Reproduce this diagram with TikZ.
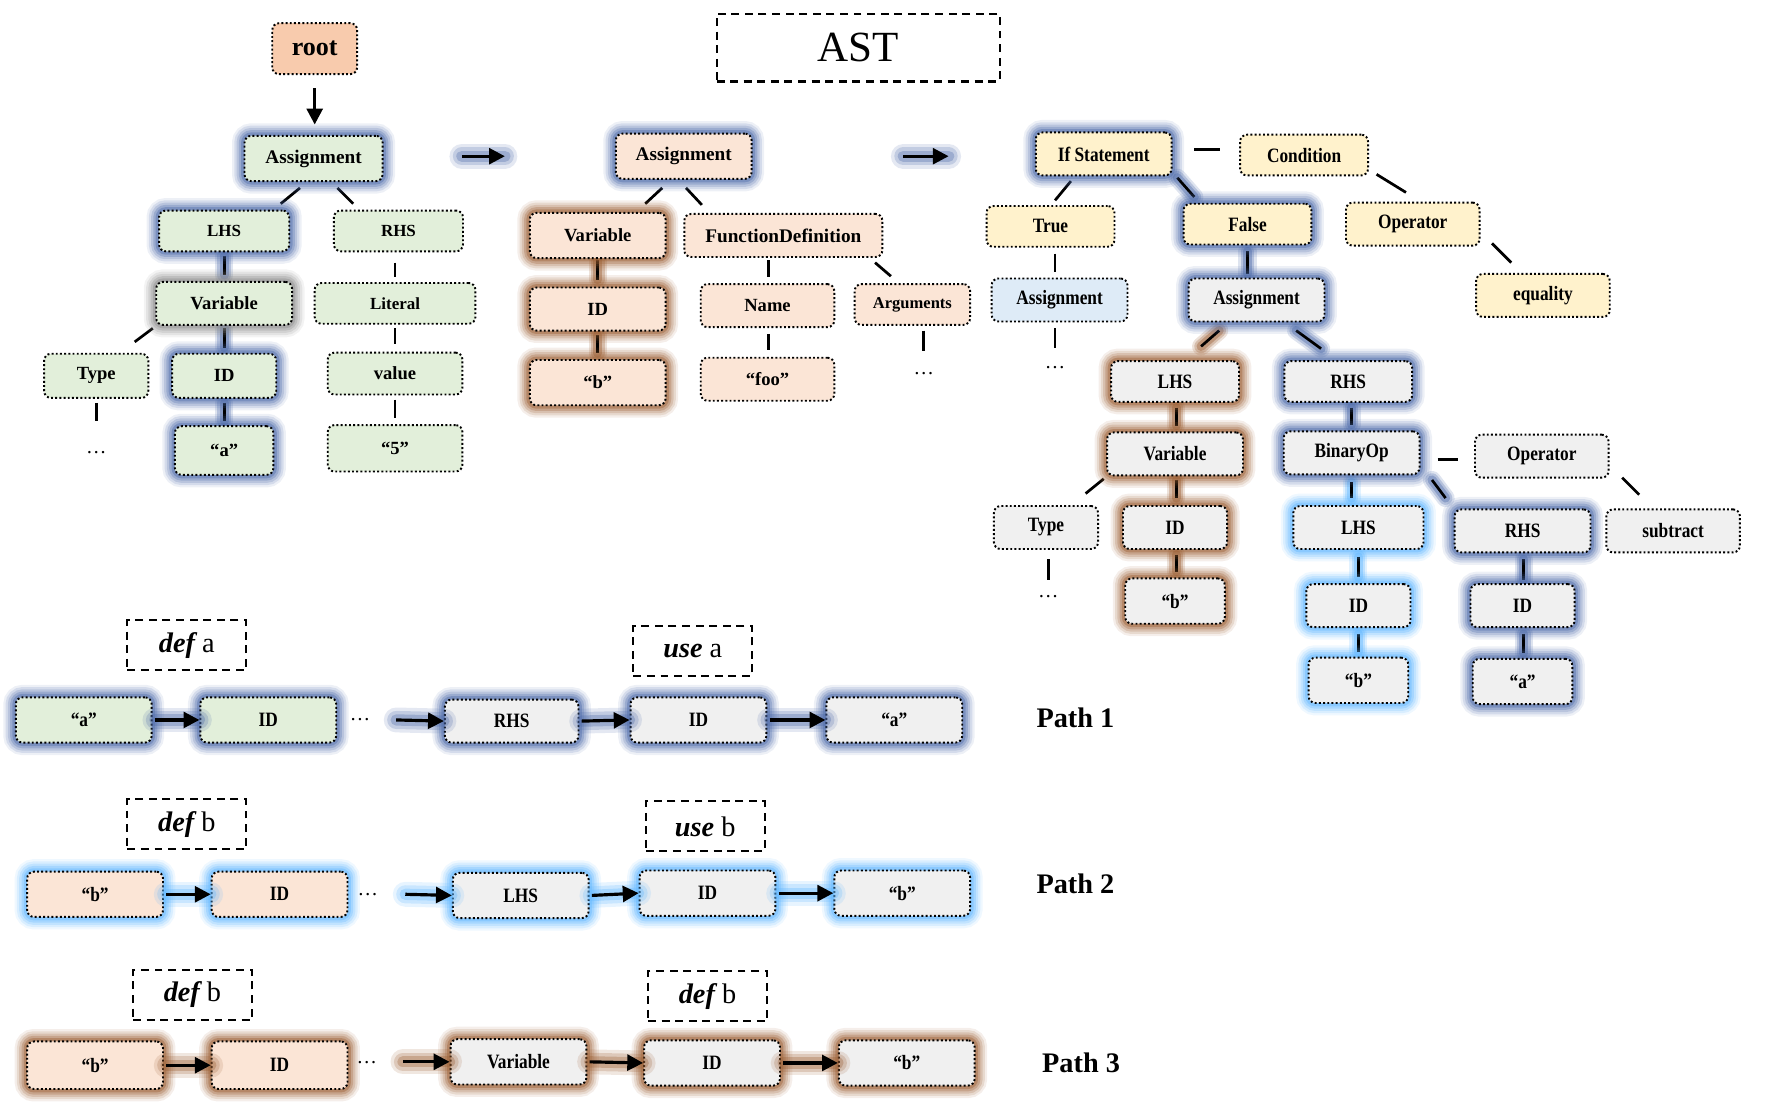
\documentclass[tikz,border=0pt]{standalone}
\usepackage{fontspec}
\setmainfont{Liberation Serif}
\newfontfamily\condf[FakeStretch=0.85]{Liberation Serif}
\usetikzlibrary{arrows.meta,calc}
\definecolor{cgreen}{HTML}{E2EFDA}
\definecolor{cpeach}{HTML}{FBE5D6}
\definecolor{croot}{HTML}{F8CBAD}
\definecolor{cyellow}{HTML}{FFF2CC}
\definecolor{cgray}{HTML}{F0F0F0}
\definecolor{cblue}{HTML}{DEEBF7}
\definecolor{glowblue}{HTML}{4A68A8}
\definecolor{glowbrown}{HTML}{9A5C30}
\definecolor{glowlight}{HTML}{5FB6FF}
\definecolor{glowgray}{HTML}{8A8A8A}
\pgfdeclarelayer{bg}\pgfsetlayers{bg,main}
\newcommand\cnx[5][conn]{\draw[#1] ($(#2)+(#3)$) -- ($(#4)+(#5)$);}
\newcommand\garr[5]{\path[gline=#1] ($(#2)+(#3)$) -- ($(#4)+(#5)$);
  \draw[arr] ($(#2)+(#3)$) -- ($(#4)+(#5)$);}
\begin{document}
\begin{tikzpicture}[x=0.5pt,y=-0.5pt,
  nd/.style={draw, densely dotted, line width=0.85pt, rounded corners=3pt, inner sep=1pt, align=center},
  sz/.style 2 args={minimum width=#1*0.5pt, minimum height=#2*0.5pt},
  lf/.style={font=\bfseries\fontsize{#1}{12}\selectfont},
  rf/.style={font=\condf\bfseries\fontsize{9}{11}\selectfont},
  glow/.style={preaction={draw=#1,solid,line width=11pt,draw opacity=.1},
               preaction={draw=#1,solid,line width=9pt,draw opacity=.15},
               preaction={draw=#1,solid,line width=7pt,draw opacity=.2},
               preaction={draw=#1,solid,line width=5pt,draw opacity=.28},
               preaction={draw=#1,solid,line width=3pt,draw opacity=.4}},
  gb/.style={glow=glowblue}, gr/.style={glow=glowbrown}, gl/.style={glow=glowlight},
  conn/.style={line width=1.2pt},
  cg/.style={conn, preaction={draw=#1,line width=8pt,draw opacity=.18,line cap=round},
             preaction={draw=#1,line width=6pt,draw opacity=.28,line cap=round},
             preaction={draw=#1,line width=4pt,draw opacity=.4,line cap=round}},
  gline/.style={preaction={draw=#1,line width=11pt,draw opacity=.15,line cap=round},
                preaction={draw=#1,line width=8pt,draw opacity=.22,line cap=round},
                preaction={draw=#1,line width=5pt,draw opacity=.32,line cap=round}},
  arr/.style={line width=1.4pt, -{Triangle[length=7pt,width=7pt]}},
  dbox/.style={draw, dash pattern=on 3.5pt off 2.5pt, line width=0.9pt, font=\fontsize{12.5}{14}\selectfont},
  dots/.style={font=\fontsize{9}{10}\selectfont, inner sep=0pt},
  plabel/.style={font=\bfseries\fontsize{12.5}{14}\selectfont}
]
\useasboundingbox (0,0) rectangle (1568,978);

% ---------- titles ----------
\node[nd,fill=croot,sz={75}{45},lf=11.5] (root) at (278,43) {root};
\node[dbox,sz={250}{60},font=\fontsize{19}{22}\selectfont] (ast) at (758,42) {AST};

% ---------- left tree ----------
\node[nd,fill=cgreen,gb,sz={122}{40},lf=8.5] (asgA) at (277,140) {Assignment};
\node[nd,fill=cgreen,gb,sz={115}{36},lf=7.5] (lhsA) at (198,204) {LHS};
\node[nd,fill=cgreen,sz={114}{36},lf=7.5] (rhsA) at (352,204) {RHS};
\node[nd,fill=cgreen,glow=glowgray,sz={120}{38},lf=8.2] (varA) at (198,268) {Variable};
\node[nd,fill=cgreen,sz={142}{36},lf=7.5] (litA) at (349,268) {Literal};
\node[nd,fill=cgreen,sz={92}{39},lf=8.2] (typeA) at (85,332) {Type};
\node[nd,fill=cgreen,gb,sz={92}{39},lf=8.2] (idA) at (198,332) {ID};
\node[nd,fill=cgreen,sz={119}{37},lf=8.2] (valA) at (349,330) {value};
\node[nd,fill=cgreen,gb,sz={87}{43},lf=8.2] (aA) at (198,398) {“a”};
\node[nd,fill=cgreen,sz={119}{41},lf=8.2] (fiveA) at (349,396) {“5”};
\node[dots] (dotsA) at (85,400) {…};

% ---------- middle tree ----------
\node[nd,fill=cpeach,gb,sz={120}{40},lf=8.5] (asgB) at (604,138) {Assignment};
\node[nd,fill=cpeach,gr,sz={120}{40},lf=8.2] (varB) at (528,208) {Variable};
\node[nd,fill=cpeach,sz={175}{38},lf=8.5] (fdB) at (692,208) {FunctionDefinition};
\node[nd,fill=cpeach,gr,sz={120}{38},lf=8.2] (idB) at (528,273) {ID};
\node[nd,fill=cpeach,sz={118}{38},lf=8.2] (nameB) at (678,270) {Name};
\node[nd,fill=cpeach,sz={102}{36},lf=7.3] (argB) at (806,269) {Arguments};
\node[nd,fill=cpeach,gr,sz={120}{40},lf=8.2] (bB) at (528,338) {“b”};
\node[nd,fill=cpeach,sz={118}{38},lf=8.2] (fooB) at (678,335) {“foo”};
\node[dots] (dotsB) at (816,330) {…};

% ---------- right tree ----------
\node[nd,fill=cyellow,gb,sz={120}{38},rf] (ifC) at (975,136) {If Statement};
\node[nd,fill=cyellow,sz={113}{36},rf] (condC) at (1152,137) {Condition};
\node[nd,fill=cyellow,sz={113}{36},rf] (trueC) at (928,200) {True};
\node[nd,fill=cyellow,gb,sz={113}{36},rf] (falseC) at (1102,198) {False};
\node[nd,fill=cyellow,sz={118}{38},rf] (opC) at (1248,198) {Operator};
\node[nd,fill=cyellow,sz={118}{38},rf] (eqC) at (1363,261) {equality};
\node[nd,fill=cblue,sz={120}{38},rf] (asgC) at (936,265) {Assignment};
\node[nd,fill=cgray,gb,sz={120}{38},rf] (asgD) at (1110,265) {Assignment};
\node[dots] (dotsC) at (932,325) {…};
\node[nd,fill=cgray,gr,sz={113}{36},rf] (lhsD) at (1038,337) {LHS};
\node[nd,fill=cgray,gb,sz={113}{36},rf] (rhsD) at (1191,337) {RHS};
\node[nd,fill=cgray,gr,sz={120}{38},rf] (varD) at (1038,401) {Variable};
\node[nd,fill=cgray,gb,sz={120}{38},rf] (binD) at (1194,400) {BinaryOp};
\node[nd,fill=cgray,sz={118}{38},rf] (op2D) at (1362,403) {Operator};
\node[nd,fill=cgray,sz={118}{38},rf] (subD) at (1478,469) {subtract};
\node[nd,fill=cgray,sz={92}{38},rf] (typeD) at (924,466) {Type};
\node[nd,fill=cgray,gr,sz={92}{38},rf] (idD) at (1038,466) {ID};
\node[dots] (dotsD) at (926,527) {…};
\node[nd,fill=cgray,gr,sz={88}{40},rf] (bD) at (1038,531) {“b”};
\node[nd,fill=cgray,gl,sz={115}{38},rf] (lhsE) at (1200,466) {LHS};
\node[nd,fill=cgray,gb,sz={120}{38},rf] (rhsE) at (1345,469) {RHS};
\node[nd,fill=cgray,gl,sz={92}{38},rf] (idE) at (1200,535) {ID};
\node[nd,fill=cgray,gl,sz={88}{40},rf] (bE) at (1200,601) {“b”};
\node[nd,fill=cgray,gb,sz={92}{38},rf] (idF) at (1345,535) {ID};
\node[nd,fill=cgray,gb,sz={88}{40},rf] (aF) at (1345,602) {“a”};

% ---------- path rows ----------
\node[dbox,sz={105}{44}] (defA) at (165,570) {{\bfseries\itshape def} a};
\node[dbox,sz={105}{44}] (useA) at (612,575) {{\bfseries\itshape use} a};
\node[nd,fill=cgreen,gb,sz={120}{40},rf] (aP1) at (74,636) {“a”};
\node[nd,fill=cgreen,gb,sz={120}{40},rf] (idP1) at (237,636) {ID};
\node[dots] (dP1) at (318,636) {…};
\coordinate (sP1) at (350,636);
\node[nd,fill=cgray,gb,sz={118}{38},rf] (rhsP1) at (452,637) {RHS};
\node[nd,fill=cgray,gb,sz={120}{40},rf] (idP1b) at (617,636) {ID};
\node[nd,fill=cgray,gb,sz={120}{40},rf] (aP1b) at (790,636) {“a”};
\node[plabel] (path1) at (950,634) {Path 1};

\node[dbox,sz={105}{44}] (defB) at (165,728) {{\bfseries\itshape def} b};
\node[dbox,sz={105}{44}] (useB) at (623,730) {{\bfseries\itshape use} b};
\node[nd,fill=cpeach,gl,sz={120}{40},rf] (bP2) at (84,790) {“b”};
\node[nd,fill=cpeach,gl,sz={120}{40},rf] (idP2) at (247,790) {ID};
\node[dots] (dP2) at (325,790) {…};
\coordinate (sP2) at (358,790);
\node[nd,fill=cgray,gl,sz={120}{40},rf] (lhsP2) at (460,791) {LHS};
\node[nd,fill=cgray,gl,sz={120}{40},rf] (idP2b) at (625,789) {ID};
\node[nd,fill=cgray,gl,sz={120}{40},rf] (bP2b) at (797,789) {“b”};
\node[plabel] (path2) at (950,781) {Path 2};

\node[dbox,sz={105}{44}] (defB2) at (170,879) {{\bfseries\itshape def} b};
\node[dbox,sz={105}{44}] (defB3) at (625,880) {{\bfseries\itshape def} b};
\node[nd,fill=cpeach,gr,sz={120}{42},rf] (bP3) at (84,941) {“b”};
\node[nd,fill=cpeach,gr,sz={120}{42},rf] (idP3) at (247,941) {ID};
\node[dots] (dP3) at (324,939) {…};
\coordinate (sP3) at (356,938);
\node[nd,fill=cgray,gr,sz={120}{40},rf] (varP3) at (458,938) {Variable};
\node[nd,fill=cgray,gr,sz={120}{40},rf] (idP3b) at (629,939) {ID};
\node[nd,fill=cgray,gr,sz={120}{40},rf] (bP3b) at (801,939) {“b”};
\node[plabel] (path3) at (955,939) {Path 3};

% ---------- connectors ----------
\begin{pgfonlayer}{bg}
% left tree
\cnx{asgA}{-12,26}{lhsA}{50,-24}
\cnx{asgA}{21,26}{rhsA}{-40,-24}
\cnx[cg=glowblue]{lhsA}{0,22}{varA}{0,-25}
\cnx{rhsA}{-3,28}{litA}{0,-23}
\cnx{varA}{-63,22}{typeA}{34,-30}
\cnx[cg=glowblue]{varA}{0,22}{idA}{0,-25}
\cnx{litA}{0,22}{valA}{0,-26}
\cnx[cg=glowblue]{idA}{0,24}{aA}{0,-26}
\cnx{valA}{0,23}{fiveA}{0,-27}
\cnx{typeA}{0,24}{dotsA}{0,-28}
% middle tree
\cnx{asgB}{-19,28}{varB}{42,-28}
\cnx{asgB}{2,28}{fdB}{-72,-27}
\cnx[cg=glowbrown]{varB}{0,22}{idB}{0,-26}
\cnx{fdB}{-13,22}{nameB}{1,-25}
\cnx{fdB}{81,24}{argB}{-19,-25}
\cnx[cg=glowbrown]{idB}{0,23}{bB}{0,-26}
\cnx{nameB}{1,25}{fooB}{1,-26}
\cnx{argB}{10,23}{dotsB}{0,-20}
% right tree
\cnx{ifC}{80,-4}{condC}{-74,-5}
\cnx{ifC}{-29,24}{trueC}{4,-23}
\cnx[cg=glowblue]{ifC}{65,21}{falseC}{-47,-24}
\cnx{condC}{64,17}{opC}{-6,-28}
\cnx{opC}{70,17}{eqC}{-28,-29}
\cnx{trueC}{4,24}{asgC}{-4,-25}
\cnx[cg=glowblue]{falseC}{0,24}{asgD}{-8,-23}
\cnx{asgC}{-4,25}{dotsC}{0,-18}
\cnx[cg=glowbrown]{asgD}{-33,27}{lhsD}{23,-31}
\cnx[cg=glowblue]{asgD}{35,27}{rhsD}{-24,-29}
\cnx[cg=glowbrown]{lhsD}{1,23}{varD}{1,-25}
\cnx[cg=glowblue]{rhsD}{3,23}{binD}{0,-25}
\cnx{binD}{76,6}{op2D}{-74,3}
\cnx{op2D}{71,19}{subD}{-30,-32}
\cnx{varD}{-63,22}{typeD}{35,-30}
\cnx[cg=glowbrown]{varD}{1,23}{idD}{1,-26}
\cnx{typeD}{2,28}{dotsD}{0,-15}
\cnx[cg=glowbrown]{idD}{1,24}{bD}{1,-26}
\cnx[cg=glowlight]{binD}{0,26}{lhsE}{-6,-26}
\cnx[cg=glowblue]{binD}{71,24}{rhsE}{-68,-29}
\cnx[cg=glowlight]{lhsE}{0,26}{idE}{0,-25}
\cnx[cg=glowlight]{idE}{0,25}{bE}{0,-25}
\cnx[cg=glowblue]{rhsE}{1,25}{idF}{1,-23}
\cnx[cg=glowblue]{idF}{1,25}{aF}{1,-25}
\end{pgfonlayer}

% arrows
\draw[arr] ($(root)+(0,35)$) -- ($(asgA)+(1,-30)$);
\garr{glowblue}{asgA}{131,-2}{asgB}{-158,0}
\garr{glowblue}{asgB}{194,0}{ifC}{-137,2}

\garr{glowblue}{aP1.east}{2,0}{idP1.west}{0,0}
\garr{glowblue}{sP1}{0,0}{rhsP1.west}{0,0}
\garr{glowblue}{rhsP1.east}{2,0}{idP1b.west}{0,0}
\garr{glowblue}{idP1b.east}{2,0}{aP1b.west}{0,0}

\garr{glowlight}{bP2.east}{2,0}{idP2.west}{0,0}
\garr{glowlight}{sP2}{0,0}{lhsP2.west}{0,0}
\garr{glowlight}{lhsP2.east}{2,0}{idP2b.west}{0,0}
\garr{glowlight}{idP2b.east}{2,0}{bP2b.west}{0,0}

\garr{glowbrown}{bP3.east}{2,0}{idP3.west}{0,0}
\garr{glowbrown}{sP3}{0,0}{varP3.west}{0,0}
\garr{glowbrown}{varP3.east}{2,0}{idP3b.west}{0,0}
\garr{glowbrown}{idP3b.east}{2,0}{bP3b.west}{0,0}
\end{tikzpicture}
\end{document}
